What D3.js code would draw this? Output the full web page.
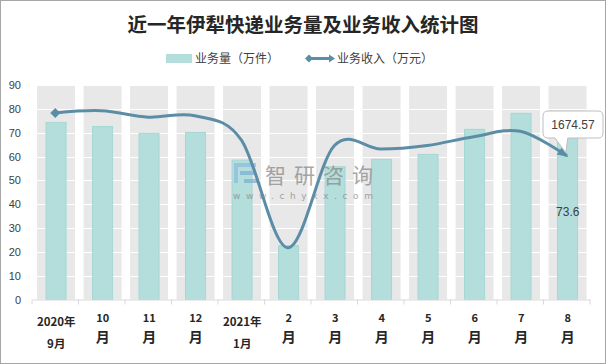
<!DOCTYPE html>
<html><head><meta charset="utf-8">
<script src="https://cdn.jsdelivr.net/npm/d3@7"></script>
<style>body{margin:0;background:#fff}svg{display:block}</style>
</head><body><svg id="c" width="606" height="364"></svg>
<script>
const months = ["2020年9月","10月","11月","12月","2021年1月","2月","3月","4月","5月","6月","7月","8月"];
const labelTop = ["2020年","10","11","12","2021年","2","3","4","5","6","7","8"];
const labelBottom = ["9月","月","月","月","1月","月","月","月","月","月","月","月"];
const volume = [74.3,72.6,69.7,70.1,58.5,22.6,55.7,58.8,60.9,71.4,78.1,73.6];
const revenue = [2175,2200,2125,2142,1861,603,1792,1753,1795,1897,1961,1674.57];
const yTicks = [0,10,20,30,40,50,60,70,80,90];
const leftMax = 90, rightMax = 2500;

const svg = d3.select("#c");
const W = 606, H = 364;
const m = {l:32, r:16, t:85, b:64.5};
const x = d3.scaleBand().domain(months).range([m.l, W - m.r]).paddingInner(0).paddingOuter(0);
const y = d3.scaleLinear().domain([0, leftMax]).range([H - m.b, m.t]);
const y2 = d3.scaleLinear().domain([0, rightMax]).range([H - m.b, m.t]);
const bw = x.bandwidth();

// border
svg.append("rect").attr("x",0.5).attr("y",0.5).attr("width",W-1).attr("height",H-1)
  .attr("fill","#fff").attr("stroke","#a6a6a6");

// title
svg.append("text").attr("x",303).attr("y",32).attr("text-anchor","middle")
  .attr("font-family","'Noto Sans CJK SC',sans-serif").attr("font-weight","bold")
  .attr("font-size",19.5).attr("fill","#262626").text("近一年伊犁快递业务量及业务收入统计图");

// legend
const lg = svg.append("g").attr("font-family","'Noto Sans CJK SC',sans-serif").attr("font-size",12).attr("fill","#404040");
lg.append("rect").attr("x",166).attr("y",54).attr("width",26).attr("height",9).attr("fill","#b3dedb");
lg.append("text").attr("x",195).attr("y",62.5).text("业务量（万件）");
lg.append("line").attr("x1",307).attr("x2",333).attr("y1",58.5).attr("y2",58.5).attr("stroke","#5b8ea6").attr("stroke-width",3);
lg.append("path").attr("d","M305,58.5 l4,-4 l4,4 l-4,4z").attr("fill","#5b8ea6");
lg.append("path").attr("d","M335,58.5 l-6,-4 l0,8z").attr("fill","#5b8ea6");
lg.append("text").attr("x",337).attr("y",62.5).text("业务收入（万元）");

// gray background columns
const gw = 38;
svg.append("g").selectAll("rect").data(months).join("rect")
  .attr("x", d => x(d) + bw/2 - gw/2 + 0.8).attr("width", gw)
  .attr("y", y(leftMax)).attr("height", y(0) - y(leftMax)).attr("fill","#e8e8e8");

// grid lines
svg.append("g").selectAll("line").data(yTicks.slice(1)).join("line")
  .attr("x1", m.l).attr("x2", W - m.r).attr("y1", d => Math.round(y(d))+0.5).attr("y2", d => Math.round(y(d))+0.5)
  .attr("stroke","#fff").attr("stroke-width",1.2);

// bars
const barW = 20;
svg.append("g").selectAll("rect").data(volume).join("rect")
  .attr("x", (d,i) => x(months[i]) + bw/2 - barW/2 + 0.8).attr("width", barW)
  .attr("y", d => y(d)).attr("height", d => y(0) - y(d))
  .attr("fill","#b3dedb").attr("stroke","#a5d8d3").attr("stroke-width",1);

// axes
const ax = svg.append("g").attr("transform",`translate(0,${y(0)})`)
  .call(d3.axisBottom(x).tickSize(0).tickFormat(""));
ax.select(".domain").attr("stroke","#d9d9d9");
svg.append("g").selectAll("line").data(months.concat(["end"])).join("line")
  .attr("x1",(d,i)=>m.l + i*bw).attr("x2",(d,i)=>m.l + i*bw)
  .attr("y1", y(0)).attr("y2", y(0)+5).attr("stroke","#d9d9d9");

const ay = svg.append("g").attr("transform",`translate(${m.l},0)`)
  .call(d3.axisLeft(y).tickValues(yTicks).tickSize(0).tickPadding(11));
ay.select(".domain").remove();
ay.selectAll("text").attr("font-family","'Liberation Sans',Arial,sans-serif").attr("font-size",11).attr("fill","#404040");

// x labels
const xl = svg.append("g").attr("font-family","'Noto Sans CJK SC',sans-serif").attr("font-weight","bold").attr("fill","#262626").attr("text-anchor","middle");
months.forEach((mo,i) => {
  const cx = x(mo) + bw/2 + 1;
  const two = labelTop[i].includes("年");
  xl.append("text").attr("x",cx).attr("y", two ? 326 : 322).attr("font-size", two ? 11.5 : 11).text(labelTop[i]);
  xl.append("text").attr("x",cx).attr("y", two ? 348 : 342).attr("font-size", two ? 11.5 : 14).text(labelBottom[i]);
});

// watermark
const wm = svg.append("g").attr("opacity",0.75);
wm.append("rect").attr("x",234).attr("y",163).attr("width",22).attr("height",4).attr("fill","#8fbde0");
wm.append("rect").attr("x",234).attr("y",163).attr("width",4).attr("height",20).attr("fill","#8fbde0");
wm.append("rect").attr("x",240).attr("y",171).attr("width",16).attr("height",4).attr("fill","#7fb0d6");
wm.append("rect").attr("x",244).attr("y",179).attr("width",14).attr("height",4).attr("fill","#7fb0d6");
wm.append("text").attr("x",265).attr("y",183).attr("font-family","'Noto Sans CJK SC',sans-serif")
  .attr("font-size",21).attr("fill","#8a8a8a").attr("textLength",108).attr("lengthAdjust","spacing").text("智研咨询");
wm.append("text").attr("x",233).attr("y",199).attr("font-family","'DejaVu Sans',sans-serif")
  .attr("font-size",9).attr("fill","#8a8a8a").attr("textLength",140).attr("lengthAdjust","spacing").text("www.chyxx.com");

// revenue line (secondary hidden axis)
const pts = revenue.map((v,i) => [x(months[i]) + bw/2, y2(v)]);
const line = d3.line().curve(d3.curveCardinal.tension(0));
svg.append("path").attr("d", line(pts)).attr("fill","none").attr("stroke","#5b8ea6").attr("stroke-width",3);
const p0 = pts[0];
svg.append("path").attr("d",`M${p0[0]-5},${p0[1]} l5,-5 l5,5 l-5,5z`).attr("fill","#5b8ea6");
// end arrow
const pn = pts[pts.length-1], pp = [pn[0]-8, pn[1]-6];
const ang = Math.atan2(pn[1]-pp[1], pn[0]-pp[0]);
svg.append("path").attr("transform",`translate(${pn[0]},${pn[1]}) rotate(${ang*180/Math.PI})`)
  .attr("d","M2,0 L-9,-5 L-9,5z").attr("fill","#5b8ea6");

// data labels
const last = months.length - 1;
const lx = x(months[last]) + bw/2;
svg.append("text").attr("x", lx + 1).attr("y", y(volume[last]) + 92).attr("text-anchor","middle")
  .attr("font-family","'Liberation Sans',Arial,sans-serif").attr("font-size",12).attr("fill","#404040").text(volume[last]);
const bx0 = 543, bx1 = 603, by0 = 111, by1 = 138, r = 5;
svg.append("path").attr("d",
  `M${bx0+r},${by0} H${bx1-r} Q${bx1},${by0} ${bx1},${by0+r} V${by1-r} Q${bx1},${by1} ${bx1-r},${by1} H${lx+1} L${pn[0]-1},${pn[1]-3} L${bx0+12},${by1} H${bx0+r} Q${bx0},${by1} ${bx0},${by1-r} V${by0+r} Q${bx0},${by0} ${bx0+r},${by0}Z`)
  .attr("fill","#fff").attr("stroke","#bfbfbf");
svg.append("text").attr("x", 573).attr("y", 128.5).attr("text-anchor","middle")
  .attr("font-family","'Liberation Sans',Arial,sans-serif").attr("font-size",12).attr("fill","#404040").text(revenue[last].toFixed(2));
</script></body></html>
